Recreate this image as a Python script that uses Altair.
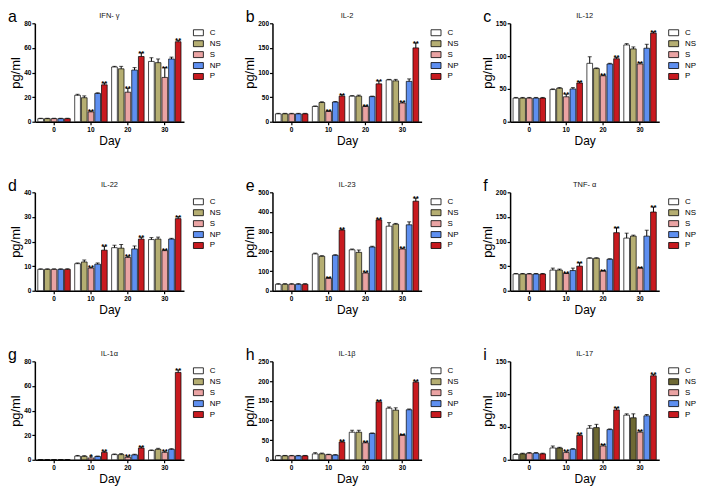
import altair as alt
import pandas as pd

FONT = "Liberation Sans"
DAYS = ["0", "10", "20", "30"]
GROUPS = ["C", "NS", "S", "NP", "P"]
COLORS = ["#ffffff", "#b5ae72", "#eaa3a3", "#5e8ff0", "#c81a1f"]
COLORS_I = ["#ffffff", "#6e6934", "#eaa3a3", "#5e8ff0", "#c81a1f"]

NO = ["", "", "", "", ""]
SP = ["", "", "**", "", "**"]
P_ONLY = ["", "", "", "", "**"]

# a  IFN-γ
A_MEAN = [[2.5, 2.5, 2.5, 2.5, 2.5], [21.5, 19.5, 8, 23, 30], [44.5, 43, 24, 42, 53], [49, 48, 36, 51, 65]]
A_ERR = [[0.3, 0.3, 0.3, 0.3, 0.3], [0.8, 1.5, 0.8, 0.5, 1.5], [0.5, 2, 3, 2, 3], [3, 3, 8, 1.5, 1]]
A_STAR = [NO, SP, SP, SP]
# b  IL-2
B_MEAN = [[16, 16, 16, 16, 16], [31, 39, 21, 40, 52], [52, 52, 31, 51, 77], [85, 83, 38, 82, 150]]
B_ERR = [[1, 1, 1, 1, 1], [1, 1.5, 1, 1, 3], [1, 2, 1, 1, 6], [1, 3, 2, 5, 10]]
B_STAR = [NO, SP, SP, SP]
# c  IL-12
C_MEAN = [[36, 36, 36, 36, 36], [49, 51, 38, 50, 59], [89, 81, 70, 88, 96], [117, 111, 88, 112, 135]]
C_ERR = [[1, 1, 1, 1, 1], [1, 1, 4, 2, 2], [10, 1, 1, 1, 2], [2, 3, 2, 6, 2]]
C_STAR = [NO, SP, SP, SP]
# d  IL-22
D_MEAN = [[8.7, 8.7, 8.7, 8.7, 8.7], [11, 11.7, 9.2, 10.8, 16.5], [17.5, 17.3, 13.5, 17, 21], [20.8, 21, 16.3, 21, 29.3]]
D_ERR = [[0.2, 0.2, 0.2, 0.2, 0.2], [0.3, 0.8, 0.3, 0.5, 1.5], [1, 1.5, 0.5, 1.2, 0.7], [0.8, 0.8, 0.3, 0.3, 0.8]]
D_STAR = [NO, SP, SP, SP]
# e  IL-23
E_MEAN = [[33, 33, 33, 33, 33], [187, 175, 63, 180, 308], [208, 195, 90, 222, 360], [328, 338, 212, 335, 455]]
E_ERR = [[3, 3, 3, 3, 3], [4, 3, 4, 3, 4], [4, 12, 4, 4, 4], [18, 4, 4, 15, 15]]
E_STAR = [NO, SP, SP, SP]
# f  TNF-α
F_MEAN = [[34, 34, 34, 34, 34], [42, 42, 35, 41, 50], [66, 66, 40, 64, 118], [107, 111, 46, 111, 160]]
F_ERR = [[1, 1, 1, 1, 1], [4, 2, 1, 5, 7], [1, 1, 1, 1, 10], [10, 2, 1, 12, 10]]
F_STAR = [NO, SP, SP, SP]
# g  IL-1α
G_MEAN = [[0, 0, 0, 0, 0], [3, 2.8, 1.5, 2.7, 6], [4.2, 4.2, 2, 4, 9.5], [7.5, 8.5, 6, 8.5, 71]]
G_ERR = [[0, 0, 0, 0, 0], [0.5, 0.5, 1.5, 0.3, 0.8], [0.5, 0.8, 0.8, 0.5, 1], [0.5, 0.8, 1, 0.5, 2]]
G_STAR = [NO, ["", "", "*", "", "**"], SP, SP]
# h  IL-1β
H_MEAN = [[10, 10, 10, 10, 10], [15, 15, 13, 12, 45], [70, 70, 43, 67, 147], [131, 126, 62, 127, 197]]
H_ERR = [[1, 1, 1, 1, 1], [3, 2, 1, 1, 2], [5, 5, 2, 1, 3], [3, 6, 2, 2, 3]]
H_STAR = [NO, P_ONLY, SP, SP]
# i  IL-17
I_MEAN = [[8, 9, 10, 10, 9], [18, 18, 11, 16, 37], [48, 49, 21, 46, 76], [68, 64, 42, 67, 128]]
I_ERR = [[1, 1, 1, 1, 1], [3, 1, 2, 1, 2], [4, 5, 2, 1, 3], [2, 6, 2, 2, 2]]
I_STAR = [NO, SP, SP, SP]

PANELS = [
    ("a", "IFN- γ", 80, [0, 20, 40, 60, 80], A_MEAN, A_ERR, A_STAR, COLORS),
    ("b", "IL-2", 200, [0, 50, 100, 150, 200], B_MEAN, B_ERR, B_STAR, COLORS),
    ("c", "IL-12", 150, [0, 50, 100, 150], C_MEAN, C_ERR, C_STAR, COLORS),
    ("d", "IL-22", 40, [0, 10, 20, 30, 40], D_MEAN, D_ERR, D_STAR, COLORS),
    ("e", "IL-23", 500, [0, 100, 200, 300, 400, 500], E_MEAN, E_ERR, E_STAR, COLORS),
    ("f", "TNF- α", 200, [0, 50, 100, 150, 200], F_MEAN, F_ERR, F_STAR, COLORS),
    ("g", "IL-1α", 80, [0, 20, 40, 60, 80], G_MEAN, G_ERR, G_STAR, COLORS),
    ("h", "IL-1β", 250, [0, 50, 100, 150, 200, 250], H_MEAN, H_ERR, H_STAR, COLORS),
    ("i", "IL-17", 150, [0, 50, 100, 150], I_MEAN, I_ERR, I_STAR, COLORS_I),
]

W, H = 150, 99


def panel(letter, title, ymax, ticks, mean, err, star, colors):
    rows = []
    for di, d in enumerate(DAYS):
        for gi, g in enumerate(GROUPS):
            rows.append(dict(day=d, group=g, mean=mean[di][gi],
                             top=mean[di][gi] + err[di][gi], star=star[di][gi]))
    df = pd.DataFrame(rows)
    x = alt.X("day:N", sort=DAYS, title="Day",
              scale=alt.Scale(paddingInner=0.12, paddingOuter=0.08),
              axis=alt.Axis(labelAngle=0, titleFontSize=12, titlePadding=2, labelPadding=2))
    xo = alt.XOffset("group:N", sort=GROUPS, scale=alt.Scale(domain=GROUPS, paddingInner=0.15))
    yscale = alt.Scale(domain=[0, ymax], nice=False)

    def ych(field):
        return alt.Y(field, scale=yscale, title="pg/ml",
                     axis=alt.Axis(values=ticks, titleFontSize=13, titlePadding=1,
                                   labelPadding=1, labelOverlap=False))

    base = alt.Chart(df).encode(x=x, xOffset=xo)
    bars = base.mark_bar(stroke="black", strokeWidth=0.7).encode(
        y=ych("mean:Q"),
        color=alt.Color("group:N", sort=GROUPS,
                        scale=alt.Scale(domain=GROUPS, range=colors),
                        legend=alt.Legend(title=None, orient="right", offset=5, padding=4,
                                          symbolType="M-1,-0.6L1,-0.6L1,0.6L-1,0.6Z",
                                          symbolSize=100, symbolStrokeColor="black",
                                          symbolStrokeWidth=0.8, labelFontSize=8,
                                          labelFont=FONT, labelOffset=6, rowPadding=0,
                                          labelColor="black")),
    )
    rule = base.mark_rule(color="black", strokeWidth=1).encode(y=ych("mean:Q"), y2="top:Q")
    cap = base.mark_tick(color="black", thickness=1, size=4).encode(y=ych("top:Q"))
    stars = base.mark_text(fontSize=8, fontWeight="bold", baseline="alphabetic", dy=3,
                           font=FONT, color="black").encode(y=ych("top:Q"), text="star:N")
    info = pd.DataFrame({"letter": [letter], "name": [title]})
    lab = alt.Chart(info).mark_text(
        align="left", baseline="alphabetic", fontSize=16, font=FONT, color="black"
    ).encode(x=alt.value(-27), y=alt.value(-1), text="letter:N")
    ttl = alt.Chart(info).mark_text(
        align="center", baseline="alphabetic", fontSize=7.5, font=FONT, color="#111111"
    ).encode(x=alt.value(W / 2), y=alt.value(-5), text="name:N")
    return alt.layer(bars, rule, cap, stars, lab, ttl).properties(width=W, height=H)


charts = [panel(*p) for p in PANELS]

chart = alt.concat(*charts, columns=3, spacing={"row": 32, "column": 18}).resolve_scale(
    x="independent", y="independent", color="independent"
).properties(padding={"left": 0, "top": 0, "right": 0, "bottom": 0}).configure_view(
    stroke=None
).configure_axis(
    grid=False, domainColor="black", domainWidth=1.5, tickColor="black", tickWidth=1.2,
    tickSize=3, labelFont=FONT, labelFontSize=6.5, labelFontWeight="bold",
    labelColor="black", titleFont=FONT, titleFontWeight="normal", titleColor="black",
    labelOverlap=False,
)

chart.save("out.html", embed_options={"renderer": "svg", "actions": False})
